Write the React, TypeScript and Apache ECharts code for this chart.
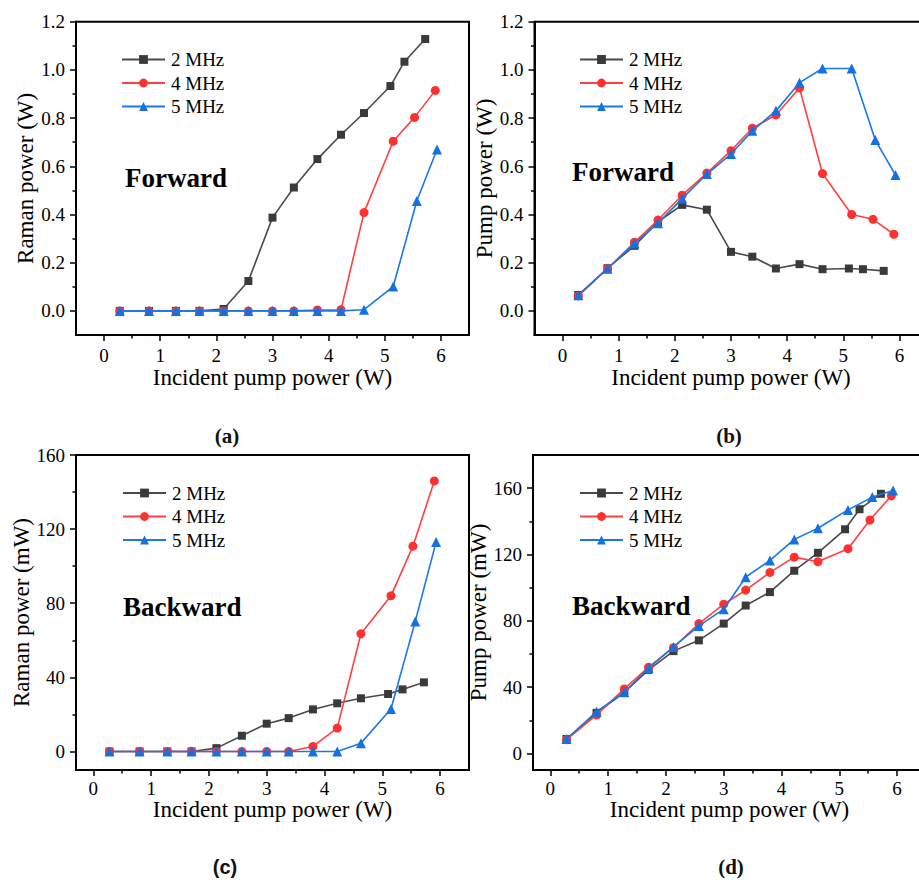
import React, { useEffect, useRef } from "react";
import * as echarts from "echarts";

const FONT = "Liberation Serif, Times New Roman, serif";

const seriesNames = ["2 MHz", "4 MHz", "5 MHz"];

// incident pump power (W) for each repetition rate
const x2MHz = [0.28, 0.8, 1.28, 1.7, 2.13, 2.57, 3.0, 3.38, 3.8, 4.22, 4.63, 5.1, 5.35, 5.72];
const x4MHz = [0.28, 0.8, 1.28, 1.7, 2.13, 2.57, 3.0, 3.38, 3.8, 4.22, 4.63, 5.15, 5.53, 5.9];
const x5MHz = [0.28, 0.8, 1.28, 1.7, 2.13, 2.57, 3.0, 3.38, 3.8, 4.22, 4.63, 5.15, 5.57, 5.93];

// (a) forward Raman power (W)
const aRaman2 = [0, 0, 0, 0, 0.008, 0.124, 0.387, 0.512, 0.63, 0.731, 0.821, 0.933, 1.034, 1.128];
const aRaman4 = [0, 0, 0, 0, 0, 0, 0, 0, 0.004, 0.005, 0.408, 0.704, 0.803, 0.915];
const aRaman5 = [0, 0, 0, 0, 0, 0, 0, 0, 0, 0, 0.005, 0.101, 0.456, 0.67];

// (b) forward pump power (W)
const bPump2 = [0.066, 0.177, 0.27, 0.37, 0.44, 0.42, 0.245, 0.225, 0.176, 0.194, 0.173, 0.176, 0.173, 0.166];
const bPump4 = [0.062, 0.175, 0.285, 0.377, 0.48, 0.572, 0.665, 0.758, 0.813, 0.925, 0.57, 0.4, 0.38, 0.318];
const bPump5 = [0.065, 0.175, 0.28, 0.364, 0.466, 0.568, 0.651, 0.747, 0.83, 0.947, 1.006, 1.006, 0.709, 0.564];

// (c) backward Raman power (mW)
const cRaman2 = [0, 0, 0, 0, 1.8, 8.5, 15, 18, 22.7, 26, 28.7, 31, 33.5, 37.3];
const cRaman4 = [0, 0, 0, 0, 0, 0, 0, 0, 2.7, 12.6, 63.5, 84, 110.8, 146];
const cRaman5 = [0, 0, 0, 0, 0, 0, 0, 0, 0, 0, 4.5, 22.9, 70.2, 113];

// (d) backward pump power (mW)
const dPump2 = [8.7, 24.5, 36.9, 50.4, 61.7, 68.2, 78.3, 89.2, 97.3, 110.2, 121, 135.2, 147.3, 156.6];
const dPump4 = [8.3, 23.2, 38.9, 52, 63.8, 78.3, 90, 98.5, 109.2, 118.4, 115.6, 123.5, 140.8, 155.4];
const dPump5 = [8.7, 25.2, 36.9, 51.5, 64.2, 76.9, 87, 106.3, 116.4, 129.1, 135.8, 146.9, 154.6, 158.6];

// tick labels
const xTicks = [0, 1, 2, 3, 4, 5, 6];
const xMinorTicks = [0.5, 1.5, 2.5, 3.5, 4.5, 5.5];
const wTicks = [0, 0.2, 0.4, 0.6, 0.8, 1.0, 1.2];
const wMinorTicks = [0.1, 0.3, 0.5, 0.7, 0.9, 1.1];
const mwTicks = [0, 40, 80, 120, 160];
const mwMinorTicks = [20, 60, 100, 140];

const COLORS = {
  black: { line: "#4a4a4a", mark: "#3a3a3a" },
  red: { line: "#ff4040", mark: "#ff3030" },
  blue: { line: "#1a78e8", mark: "#1570e0" },
};

type Panel = {
  left: number; top: number; width: number; height: number;
  xMin: number; xMax: number; yMin: number; yMax: number;
  yTicks: number[]; yMinor: number[]; yDigits: number;
  yName: string; xLabelMargin: number; xNameGap: number; yNameGap: number;
  ys: number[][];
  legendLeft: number; legendTop: number;
};

const panels: Panel[] = [
  {
    left: 76, top: 21.7, width: 393, height: 313.3, xMin: -0.5, xMax: 6.5, yMin: -0.1, yMax: 1.2,
    yTicks: wTicks, yMinor: wMinorTicks, yDigits: 1, yName: "Raman power (W)",
    xLabelMargin: 11, xNameGap: 31, yNameGap: 39, ys: [aRaman2, aRaman4, aRaman5],
    legendLeft: 121, legendTop: 50,
  },
  {
    left: 534.5, top: 21.7, width: 393, height: 313.3, xMin: -0.5, xMax: 6.5, yMin: -0.1, yMax: 1.2,
    yTicks: wTicks, yMinor: wMinorTicks, yDigits: 1, yName: "Pump power (W)",
    xLabelMargin: 11, xNameGap: 31, yNameGap: 39, ys: [bPump2, bPump4, bPump5],
    legendLeft: 579, legendTop: 50,
  },
  {
    left: 76, top: 455, width: 393, height: 315, xMin: -0.3, xMax: 6.5, yMin: -10, yMax: 160,
    yTicks: mwTicks, yMinor: mwMinorTicks, yDigits: 0, yName: "Raman power (mW)",
    xLabelMargin: 8.5, xNameGap: 27, yNameGap: 39, ys: [cRaman2, cRaman4, cRaman5],
    legendLeft: 122, legendTop: 483.5,
  },
  {
    left: 533, top: 455, width: 393, height: 315, xMin: -0.3, xMax: 6.5, yMin: -10, yMax: 180,
    yTicks: mwTicks, yMinor: mwMinorTicks, yDigits: 0, yName: "Pump power (mW)",
    xLabelMargin: 8.5, xNameGap: 28, yNameGap: 38, ys: [dPump2, dPump4, dPump5],
    legendLeft: 579, legendTop: 483.5,
  },
];

const xsBySeries = [x2MHz, x4MHz, x5MHz];
const styleBySeries = [
  { c: COLORS.black, symbol: "rect", size: 8 },
  { c: COLORS.red, symbol: "circle", size: 9 },
  { c: COLORS.blue, symbol: "triangle", size: 10 },
];

const subLabels = [
  { text: "(a)", x: 227, y: 436, font: `bold 21px Liberation Serif` },
  { text: "(b)", x: 729, y: 436, font: `bold 21px Liberation Serif` },
  { text: "(c)", x: 225, y: 867, font: `bold 20px Liberation Sans` },
  { text: "(d)", x: 731, y: 867, font: `bold 21px Liberation Serif` },
];

const innerTitles = [
  { text: "Forward", x: 125, y: 178 },
  { text: "Forward", x: 572, y: 172 },
  { text: "Backward", x: 123, y: 607 },
  { text: "Backward", x: 572, y: 606 },
];

function buildOption() {
  const grid: any[] = [];
  const xAxis: any[] = [];
  const yAxis: any[] = [];
  const series: any[] = [];
  const legend: any[] = [];
  const black = "#000";

  panels.forEach((p, i) => {
    grid.push({
      left: p.left, top: p.top, width: p.width, height: p.height,
      show: true, borderColor: black, borderWidth: 2, backgroundColor: "transparent",
      containLabel: false, outerBoundsMode: "none",
    });
    const labelStyle = { fontFamily: FONT, fontSize: 19, color: black, fontWeight: "normal" };
    // main axes
    xAxis.push({
      gridIndex: i, type: "value", min: p.xMin, max: p.xMax, position: "bottom",
      axisLine: { show: true, onZero: false, lineStyle: { color: black, width: 2 } },
      axisTick: { show: true, inside: false, customValues: xTicks, length: 6, lineStyle: { color: black, width: 1.5 } },
      axisLabel: { show: true, customValues: xTicks, margin: p.xLabelMargin, formatter: (v: number) => String(v), ...labelStyle },
      splitLine: { show: false },
      name: "Incident pump power (W)", nameLocation: "middle", nameGap: p.xNameGap,
      nameTextStyle: { fontFamily: FONT, fontSize: 23, color: black, fontWeight: "normal" },
    });
    xAxis.push({
      gridIndex: i, type: "value", min: p.xMin, max: p.xMax, position: "bottom",
      axisLine: { show: false, onZero: false },
      axisTick: { show: true, inside: false, customValues: xMinorTicks, length: 3.5, lineStyle: { color: black, width: 1.5 } },
      axisLabel: { show: false },
      splitLine: { show: false },
    });
    yAxis.push({
      gridIndex: i, type: "value", min: p.yMin, max: p.yMax, position: "left",
      axisLine: { show: true, onZero: false, lineStyle: { color: black, width: 2 } },
      axisTick: { show: true, inside: false, customValues: p.yTicks, length: 6, lineStyle: { color: black, width: 1.5 } },
      axisLabel: { show: true, customValues: p.yTicks, margin: 11, formatter: (v: number) => v.toFixed(p.yDigits), ...labelStyle },
      splitLine: { show: false },
      name: p.yName, nameLocation: "middle", nameGap: p.yNameGap,
      nameTextStyle: { fontFamily: FONT, fontSize: 23, color: black, fontWeight: "normal" },
    });
    yAxis.push({
      gridIndex: i, type: "value", min: p.yMin, max: p.yMax, position: "left",
      axisLine: { show: false, onZero: false },
      axisTick: { show: true, inside: false, customValues: p.yMinor, length: 3.5, lineStyle: { color: black, width: 1.5 } },
      axisLabel: { show: false },
      splitLine: { show: false },
    });

    p.ys.forEach((ys, k) => {
      const st = styleBySeries[k];
      series.push({
        name: seriesNames[k], type: "line",
        xAxisIndex: i * 2, yAxisIndex: i * 2,
        data: xsBySeries[k].map((x, j) => [x, ys[j]]),
        symbol: st.symbol, symbolSize: st.size, showSymbol: true,
        lineStyle: { color: st.c.line, width: 1.6 },
        itemStyle: { color: st.c.mark },
        z: 2 + k, clip: false,
      });
    });

    legend.push({
      data: seriesNames, orient: "vertical", left: p.legendLeft, top: p.legendTop,
      itemWidth: 43, itemHeight: 11, itemGap: 4.5, padding: 0,
      textStyle: { fontFamily: FONT, fontSize: 19, color: black, fontWeight: "normal", padding: [0, 0, 0, 1] },
      selectedMode: false,
    });
  });

  const graphic: any[] = [];
  innerTitles.forEach((t) => {
    graphic.push({
      type: "text", x: t.x, y: t.y, z: 100,
      style: { text: t.text, font: `bold 27px Liberation Serif`, fill: "#000", textVerticalAlign: "middle", verticalAlign: "middle" },
    });
  });
  subLabels.forEach((t) => {
    graphic.push({
      type: "text", x: t.x, y: t.y, z: 100,
      style: { text: t.text, font: t.font, fill: "#111", textAlign: "center", align: "center", textVerticalAlign: "middle", verticalAlign: "middle" },
    });
  });

  return {
    animation: false, backgroundColor: "#fff",
    textStyle: { fontFamily: FONT },
    grid, xAxis, yAxis, series, legend, graphic,
  };
}

export default function App() {
  const ref = useRef<HTMLDivElement>(null);
  useEffect(() => {
    if (!ref.current) return;
    const chart = echarts.init(ref.current, undefined, { renderer: "svg" });
    chart.setOption(buildOption() as any);
    return () => chart.dispose();
  }, []);
  return (
    <div
      ref={ref}
      style={{ position: "fixed", left: 0, top: 0, width: 919, height: 882, background: "#fff" }}
    />
  );
}
